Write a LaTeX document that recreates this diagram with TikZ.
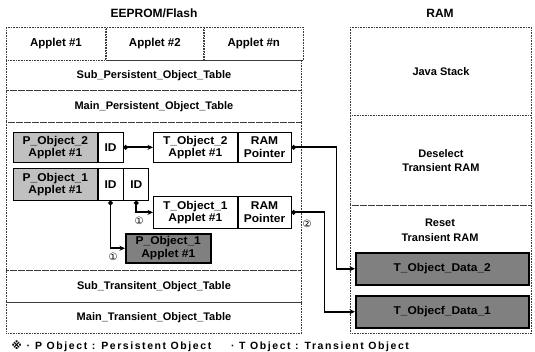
\documentclass[tikz,border=0pt]{standalone}
\usepackage{fontspec}
\setmainfont{Liberation Sans}
\newfontfamily\symfont{DejaVu Sans}
\newfontfamily\celdafont{Liberation Sans}[FakeStretch=1.06]
\newfontfamily\notafont{Liberation Sans}[LetterSpace=15]
\usetikzlibrary{arrows.meta,positioning}
\definecolor{pgray}{RGB}{192,192,192}
\definecolor{dgray}{RGB}{128,128,128}
\definecolor{zline}{RGB}{60,60,60}
\tikzset{
  fila/.style={
    rectangle, draw=zline, dash pattern=on 0.8pt off 0.8pt, line width=0.9pt, inner sep=0pt,
    anchor=north west, align=center, font=\fontsize{11}{14}\selectfont\bfseries
  },
  celda/.style={
    rectangle, draw=black, solid, fill=white, line width=0.7pt, inner sep=0pt,
    anchor=north west, align=center, font=\celdafont\fontsize{11.3}{12.5}\selectfont\bfseries
  },
  pobj/.style={celda, fill=pgray},
  dobj/.style={celda, fill=dgray, line width=1.5pt},
  enlace/.style={draw=black, line width=1.8pt, {Circle[length=4.5pt]}-{Stealth[length=5.5pt,width=5pt]}},
  rotulo/.style={align=center, font=\fontsize{11}{15}\selectfont\bfseries},
  marca/.style={font=\symfont\fontsize{10}{10}\selectfont}
}
\begin{document}
\begin{tikzpicture}[x=1pt, y=-1pt]
    \useasboundingbox (0,0) rectangle (535,351);
    % Titulos
    \node[rotulo, font=\fontsize{12}{14}\selectfont\bfseries] (teeprom) at (154,13) {EEPROM/Flash};
    \node[rotulo, font=\fontsize{12}{14}\selectfont\bfseries] (tram)    at (440,13) {RAM};
    % EEPROM/Flash
    \node[fila, minimum width=99pt, minimum height=33pt, font=\fontsize{11.5}{13}\selectfont\bfseries] (ap1) at (6,27) {Applet \#1};
    \node[fila, minimum width=97pt, minimum height=33pt, font=\fontsize{11.5}{13}\selectfont\bfseries, right=0pt of ap1] (ap2) {Applet \#2};
    \node[fila, minimum width=99pt, minimum height=33pt, font=\fontsize{11.5}{13}\selectfont\bfseries, right=0pt of ap2] (apn) {Applet \#n};
    \node[fila, minimum width=295pt, minimum height=30pt]  (subp)  at (6,60)  {Sub\_Persistent\_Object\_Table};
    \node[fila, minimum width=295pt, minimum height=32pt]  (mainp) at (6,90)  {Main\_Persistent\_Object\_Table};
    \node[fila, minimum width=295pt, minimum height=148pt] (medio) at (6,122) {};
    \node[fila, minimum width=295pt, minimum height=32pt]  (subt)  at (6,270) {Sub\_Transitent\_Object\_Table};
    \node[fila, minimum width=295pt, minimum height=31pt]  (maint) at (6,302) {Main\_Transient\_Object\_Table};
    % RAM
    \node[fila, minimum width=181pt, minimum height=88pt]  (jstack) at (350,27)  {Java Stack};
    \node[fila, minimum width=181pt, minimum height=90pt]  (desel)  at (350,115) {Deselect\\Transient RAM};
    \node[fila, minimum width=181pt, minimum height=128pt] (reset)  at (350,205) {};
    \node[rotulo] (treset) at (440,230) {Reset\\Transient RAM};
    % Objetos
    \node[pobj, minimum width=84pt, minimum height=30pt] (pobj2) at (13,132) {P\_Object\_2\\Applet \#1};
    \node[celda, minimum width=25pt, minimum height=30pt, right=0pt of pobj2] (id2) {ID};
    \node[celda, minimum width=84pt, minimum height=30pt] (tobj2) at (153,132) {T\_Object\_2\\Applet \#1};
    \node[celda, minimum width=53pt, minimum height=30pt, right=0pt of tobj2] (ptr2) {RAM\\Pointer};
    \node[pobj, minimum width=84pt, minimum height=32pt] (pobj1) at (13,168) {P\_Object\_1\\Applet \#1};
    \node[celda, minimum width=25pt, minimum height=32pt, right=0pt of pobj1] (id1a) {ID};
    \node[celda, minimum width=25pt, minimum height=32pt, right=0pt of id1a] (id1b) {ID};
    \node[celda, minimum width=84pt, minimum height=32pt] (tobj1) at (153,196) {T\_Object\_1\\Applet \#1};
    \node[celda, minimum width=53pt, minimum height=32pt, right=0pt of tobj1] (ptr1) {RAM\\Pointer};
    \node[dobj, minimum width=85pt, minimum height=29pt] (pcopy) at (125,233) {P\_Object\_1\\Applet \#1};
    \node[dobj, minimum width=173pt, minimum height=32pt] (tdata2) at (355,252) {T\_Object\_Data\_2};
    \node[dobj, minimum width=173pt, minimum height=32pt] (tdata1) at (355,295) {T\_Objecf\_Data\_1};
    % Flechas
    \draw[enlace] (id2.east) -- (tobj2.west);
    \draw[enlace] (id1a.south) -- (id1a.south |- pcopy.west) -- (pcopy.west);
    \draw[enlace] (id1b.south) -- (id1b.south |- tobj1.west) -- (tobj1.west);
    \draw[enlace] (ptr2.east) -- ++(45,0) |- (tdata2.west);
    \draw[enlace] (ptr1.east) -- ++(33,0) |- (tdata1.west);
    \node[marca] (m1) at (113,257) {①};
    \node[marca] (m2) at (139,221) {①};
    \node[marca] (m3) at (307,224) {②};
    % Nota
    \node[anchor=west, font=\notafont\fontsize{10.5}{12}\selectfont\bfseries] (nota) at (8,346)
         {{\symfont ※}\hspace{5pt}·\hspace{5pt}P Object : Persistent Object\hspace{20pt}· T Object : Transient Object};
\end{tikzpicture}
\end{document}
